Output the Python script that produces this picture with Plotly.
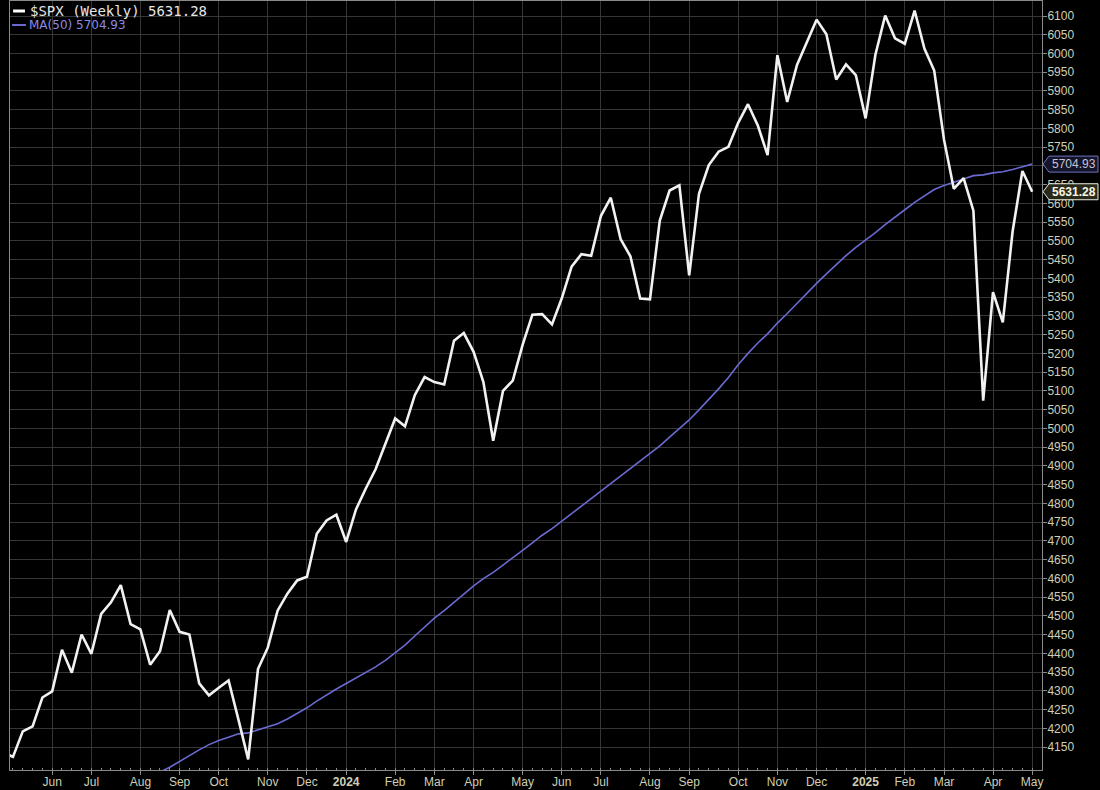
"""
Weekly $SPX close with its 50-week moving average, StockCharts-style dark chart.
"""

import pandas as pd
import plotly.graph_objects as go


# Data: one bar per week, week ending Friday 2023-05-05 .. 2025-05-09
# (the last bar is the mid-week print of 2025-05-07)

week_end = pd.date_range("2023-05-05", periods=106, freq="W-FRI")

spx_close = [
    4136.25, 4124.08, 4191.98, 4205.45, 4282.37, 4298.86, 4409.59, 4348.33,
    4450.38, 4398.95, 4505.42, 4536.34, 4582.23, 4478.03, 4464.05, 4369.71,
    4405.71, 4515.77, 4457.49, 4450.32, 4320.06, 4288.05, 4308.50, 4327.78,
    4224.16, 4117.37, 4358.34, 4415.24, 4514.02, 4559.34, 4594.63, 4604.37,
    4719.19, 4754.63, 4769.83, 4697.24, 4783.83, 4839.81, 4890.97, 4958.61,
    5026.61, 5005.57, 5088.80, 5137.08, 5123.69, 5117.09, 5234.18, 5254.35,
    5204.34, 5123.41, 4967.23, 5099.96, 5127.79, 5222.68, 5303.27, 5304.72,
    5277.51, 5346.99, 5431.60, 5464.62, 5460.48, 5567.19, 5615.35, 5505.00,
    5459.10, 5346.56, 5344.16, 5554.25, 5634.61, 5648.40, 5408.42, 5626.02,
    5702.55, 5738.17, 5751.07, 5815.03, 5864.67, 5808.12, 5728.80, 5995.54,
    5870.62, 5969.34, 6032.38, 6090.27, 6051.09, 5930.85, 5970.84, 5942.47,
    5827.04, 5996.66, 6101.24, 6040.53, 6025.99, 6114.63, 6013.13, 5954.50,
    5770.20, 5638.94, 5667.56, 5580.94, 5074.08, 5363.36, 5282.70, 5525.21,
    5686.67, 5631.28,
]

ma50 = [
    3965.26, 3964.58, 3966.25, 3972.34, 3984.49, 3992.23, 4003.92, 4012.90,
    4024.64, 4033.39, 4040.89, 4048.71, 4054.75, 4059.74, 4067.87, 4076.78,
    4083.55, 4096.40, 4111.69, 4128.98, 4142.59, 4156.69, 4167.81, 4176.34,
    4185.41, 4187.90, 4195.76, 4203.54, 4212.39, 4224.89, 4239.74, 4254.93,
    4272.52, 4289.71, 4305.12, 4319.61, 4333.88, 4347.95, 4363.96, 4381.55,
    4402.68, 4421.88, 4446.42, 4470.83, 4493.88, 4514.04, 4536.62, 4558.95,
    4580.37, 4599.45, 4616.07, 4635.59, 4654.31, 4674.65, 4695.07, 4715.19,
    4732.55, 4752.52, 4772.14, 4793.45, 4812.55, 4833.17, 4853.83, 4874.37,
    4894.27, 4913.81, 4932.58, 4953.35, 4976.89, 5000.85, 5022.62, 5049.38,
    5077.26, 5105.47, 5136.01, 5169.96, 5200.09, 5227.95, 5252.25, 5280.97,
    5306.49, 5333.79, 5360.05, 5386.76, 5412.39, 5437.06, 5460.80, 5482.85,
    5501.57, 5522.33, 5543.82, 5564.52, 5583.26, 5602.81, 5620.60, 5637.35,
    5648.07, 5655.76, 5665.02, 5674.17, 5676.31, 5681.58, 5684.68, 5690.73,
    5698.40, 5704.93,
]

y_ticks = list(range(4150, 6101, 50))

last_close = spx_close[-1]
last_ma = ma50[-1]


# Style

COLORS = {
    "bg": "#000000",
    "price": "#f2f2f2",
    "ma": "#6a6ad2",
    "grid": "#363636",
    "axis": "#8a8a8a",
    "tick_text": "#cfcfb6",
}


# Month gridlines sit on the first bar whose week starts in a new month
week_start = week_end - pd.Timedelta(days=4)
tick_vals, tick_text = [], []
for i in range(1, len(week_end)):
    if week_start[i].month != week_start[i - 1].month:
        tick_vals.append(week_end[i])
        if week_start[i].month == 1:
            tick_text.append(f"<b>{week_start[i].year}</b>")
        else:
            tick_text.append(week_start[i].strftime("%b"))

# the 5700 label sits fully under the MA value tag
y_text = ["" if v == 5700 else str(v) for v in y_ticks]


fig = go.Figure()
fig.add_trace(go.Scatter(
    x=week_end, y=ma50, mode="lines", name="MA(50)",
    line=dict(color=COLORS["ma"], width=1.6),
    showlegend=False,
))
fig.add_trace(go.Scatter(
    x=week_end, y=spx_close, mode="lines", name="$SPX (Weekly)",
    line=dict(color=COLORS["price"], width=2.6),
    showlegend=False,
))

# legend text, top-left inside the plot
fig.add_annotation(
    text=f"$SPX (Weekly) {last_close:.2f}", xref="paper", yref="paper",
    x=0.0174, y=0.987, xanchor="left", yanchor="middle", showarrow=False,
    font=dict(family="DejaVu Sans Mono", size=14, color="#e6e6e6"),
)
fig.add_annotation(
    text=f"MA(50) {last_ma:.2f}", xref="paper", yref="paper",
    x=0.0165, y=0.9688, xanchor="left", yanchor="middle", showarrow=False,
    font=dict(family="DejaVu Sans", size=12, color="#8b8be6"),
)
fig.add_shape(type="line", xref="paper", yref="paper",
              x0=0.003, x1=0.0145, y0=0.987, y1=0.987,
              line=dict(color="#ffffff", width=3))
fig.add_shape(type="line", xref="paper", yref="paper",
              x0=0.002, x1=0.0155, y0=0.9688, y1=0.9688,
              line=dict(color=COLORS["ma"], width=2))

# last-value tags on the price axis
tags = [
    (last_ma, "#14142a", "#7272c0", "#c4c4d4", f"{last_ma:.2f}"),
    (last_close, "#2a2a1c", "#ececdc", "#f6f6e6", f"<b>{last_close:.2f}</b>"),
]
for value, fill, border, text_color, label in tags:
    fig.add_shape(
        type="path", xref="paper", yref="y",
        xsizemode="pixel", xanchor=1, ysizemode="pixel", yanchor=value,
        path="M 1,0 L 7,-8 L 56,-8 L 56,8 L 7,8 Z",
        fillcolor=fill, line=dict(color=border, width=1), layer="above",
    )
    fig.add_annotation(
        text=label, xref="paper", yref="y", x=1, y=value,
        xanchor="center", yanchor="middle", xshift=32, showarrow=False,
        font=dict(family="Liberation Sans", size=12, color=text_color),
    )

fig.update_layout(
    width=1100,
    height=790,
    autosize=False,
    paper_bgcolor=COLORS["bg"],
    plot_bgcolor=COLORS["bg"],
    margin=dict(l=10, r=58, t=1, b=20),
    showlegend=False,
    xaxis=dict(
        range=[pd.Timestamp("2023-05-09 21:00"), pd.Timestamp("2025-05-16")],
        tickmode="array", tickvals=tick_vals, ticktext=tick_text,
        showgrid=True, gridcolor=COLORS["grid"], gridwidth=1,
        showline=True, linecolor=COLORS["axis"], linewidth=1, mirror=True,
        ticks="outside", ticklen=4, tickcolor=COLORS["axis"],
        ticklabelstandoff=-3,
        tickfont=dict(family="Liberation Sans", size=12, color=COLORS["tick_text"]),
        minor=dict(ticks="inside", ticklen=2, tickcolor=COLORS["axis"],
                   tickmode="linear", tick0="2023-05-12", dtick=7 * 86400000,
                   showgrid=False),
        zeroline=False,
        automargin=False,
        fixedrange=True,
    ),
    yaxis=dict(
        side="right",
        range=[4089, 6140],
        tickmode="array", tickvals=y_ticks, ticktext=y_text,
        showgrid=True, gridcolor=COLORS["grid"], gridwidth=1,
        showline=True, linecolor=COLORS["axis"], linewidth=1, mirror=True,
        ticks="outside", ticklen=4, tickcolor=COLORS["axis"],
        ticklabelstandoff=-2,
        tickfont=dict(family="Liberation Sans", size=12, color=COLORS["tick_text"]),
        zeroline=False,
        automargin=False,
        fixedrange=True,
    ),
)

# the page body has a default 8px margin; drop it so the figure fills the window
fig.write_html(
    "out.html",
    config={"displayModeBar": False},
    post_script="document.body.style.margin = '0';",
)
